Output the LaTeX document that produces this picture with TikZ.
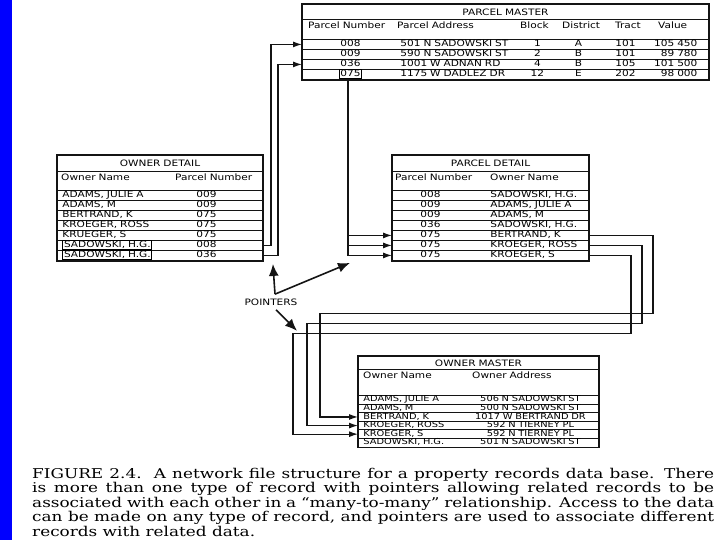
\documentclass[tikz,border=0pt]{standalone}
\usepackage{fontspec}
\setsansfont[FakeStretch=1.2]{DejaVu Sans}
\newfontfamily\captionserif[FakeStretch=1.25]{DejaVu Serif}
\usepackage{tikz}
\usetikzlibrary{arrows.meta,positioning,calc}
\definecolor{ink}{HTML}{141414}
\definecolor{sidebar}{HTML}{0000FF}
\newcommand{\keyname}[1]{{\setlength{\fboxsep}{0.6pt}\setlength{\fboxrule}{1pt}\fbox{#1}}}

\begin{document}
\begin{tikzpicture}[
  x=1pt,y=-1pt,font=\sffamily\fontsize{8.8}{10}\selectfont,
  frame/.style={draw=ink,line width=1.4pt},
  ttl/.style={draw=ink,line width=1pt,inner sep=0pt,anchor=north west,align=center},
  hdr/.style={inner sep=0pt,anchor=north west,align=left,minimum height=14pt,
    text height=6.6pt,text depth=1.8pt},
  rowbox/.style={draw=ink,line width=.9pt,inner sep=0pt,anchor=north west,align=left,
    minimum height=10pt,text height=6.6pt,text depth=1.8pt},
  link/.style={-{Latex[length=9pt,width=6pt]},line width=1.2pt,draw=ink},
  pointer/.style={-{Latex[length=12pt,width=10pt]},line width=1.6pt,draw=ink}
]
\useasboundingbox (0,0) rectangle (720,540);
\fill[white] (0,0) rectangle (720,540);
\fill[sidebar] (0,0) rectangle (12,540);

\node[ttl,text width=406pt,minimum height=15pt] (pmtitle) at (302,4) {PARCEL MASTER};
\node[hdr,text width=406pt] (pmhead) at (302,19) {\hspace*{6pt}\makebox[89pt][l]{Parcel Number}%
  \makebox[123pt][l]{Parcel Address}\makebox[42pt][l]{Block}\makebox[53pt][l]{District}%
  \makebox[43pt][l]{Tract}Value};
\foreach \no/\adr/\blk/\dst/\trc/\val [count=\i] in {008/501 N SADOWSKI ST/1/A/101/105 450,%
  009/590 N SADOWSKI ST/2/B/101/89 780,036/1001 W ADNAN RD/4/B/105/101 500,%
  \keyname{075}/1175 W DADLEZ DR/12/E/202/98 000}
  \node[rowbox,text width=406pt] (pm\i) at (302,{39+10*(\i-1)}) {\makebox[96pt]{\no}\hspace{2pt}%
    \makebox[118pt][l]{\adr}\makebox[38pt]{\blk}\makebox[44pt]{\dst}\makebox[50pt]{\trc}%
    \makebox[47pt][r]{\val}};
\draw[frame] (pmtitle.north west) rectangle (pm4.south east);

\node[ttl,text width=205pt,minimum height=16pt] (odtitle) at (57,155) {OWNER DETAIL};
\node[hdr,text width=205pt] (odhead) at (57,171) {\hspace*{4pt}\makebox[114pt][l]{Owner Name}Parcel Number};
\foreach \nm/\no [count=\i] in {{ADAMS, JULIE A}/009,{ADAMS, M}/009,{BERTRAND, K}/075,%
  {KROEGER, ROSS}/075,{KRUEGER, S}/075,{\keyname{SADOWSKI, H.G.}}/008,{\keyname{SADOWSKI, H.G.}}/036}
  \node[rowbox,text width=205pt] (od\i) at (57,{190+10*(\i-1)}) {\hspace*{5pt}\makebox[120pt][l]{\nm}\makebox[48pt]{\no}};
\draw[frame] (odtitle.north west) rectangle (od7.south east);

\node[ttl,text width=196pt,minimum height=16pt] (pdtitle) at (392,155) {PARCEL DETAIL};
\node[hdr,text width=196pt] (pdhead) at (392,171) {\hspace*{3pt}\makebox[95pt][l]{Parcel Number}Owner Name};
\foreach \no/\nm [count=\i] in {008/{SADOWSKI, H.G.},009/{ADAMS, JULIE A},009/{ADAMS, M},%
  036/{SADOWSKI, H.G.},075/{BERTRAND, K},075/{KROEGER, ROSS},075/{KROEGER, S}}
  \node[rowbox,text width=196pt] (pd\i) at (392,{190+10*(\i-1)}) {\makebox[76pt]{\no}\hspace{22pt}\makebox[96pt][l]{\nm}};
\draw[frame] (pdtitle.north west) rectangle (pd7.south east);

\node[ttl,text width=240pt,minimum height=13pt] (omtitle) at (358,356) {OWNER MASTER};
\node[hdr,text width=240pt] (omhead) at (358,369) {\hspace*{5pt}\makebox[109pt][l]{Owner Name}Owner Address};
\foreach \nm/\adr [count=\i] in {{ADAMS, JULIE A}/506 N SADOWSKI ST,{ADAMS, M}/500 N SADOWSKI ST,%
  {BERTRAND, K}/1017 W BERTRAND DR,{KROEGER, ROSS}/592 N TIERNEY PL,{KROEGER, S}/592 N TIERNEY PL,%
  {SADOWSKI, H.G.}/501 N SADOWSKI ST}
  \node[rowbox,text width=240pt,minimum height=8.6pt,text height=5.9pt,text depth=1.5pt,
    font=\sffamily\fontsize{8.2}{9}\selectfont] (om\i) at (358,{395+8.6*(\i-1)})
    {\hspace*{5pt}\makebox[112pt][l]{\nm}\makebox[110pt]{\adr}};
\draw[frame] (omtitle.north west) rectangle (om6.south east);

\draw[link] (od6.east) -- ++(8,0) |- (pm1.west);
\draw[link] (od7.east) -- ++(15,0) |- (pm3.west);
\coordinate (pmkey) at ($(pm4.south west)+(46,0)$);
\foreach \r in {5,6,7} \draw[link] (pmkey) |- (pd\r.west);
\foreach \r/\dx/\back/\o in {5/64/-38/3,6/53/-51/4,7/42/-65/5}
  \draw[link] (pd\r.east) -- ++(\dx,0) -- ++(0,78) -| ($(om\o.west)+(\back,0)$) -- (om\o.west);

\node (ptrlbl) at (271,302) {POINTERS};
\draw[pointer] ($(ptrlbl.north)+(4,-1)$) -- ($(od7.south east)+(10,3)$);
\draw[pointer] ($(ptrlbl.north)+(4,-1)$) -- ($(pmkey|-pd7.south)+(2,2)$);
\draw[pointer] ($(ptrlbl.south)+(5,1)$) -- ++(21,21);

\node[anchor=north west,inner sep=0pt,text width=682pt,align=justify,
  font=\captionserif\fontsize{13.5}{14.4}\selectfont] (caption) at (32,468)
  {FIGURE 2.4.\ \ A network file structure for a property records data base. There\linebreak
   is more than one type of record with pointers allowing related records to be\linebreak
   associated with each other in a “many-to-many” relationship. Access to the data\linebreak
   can be made on any type of record, and pointers are used to associate different\linebreak
   records with related data.};
\end{tikzpicture}
\end{document}
